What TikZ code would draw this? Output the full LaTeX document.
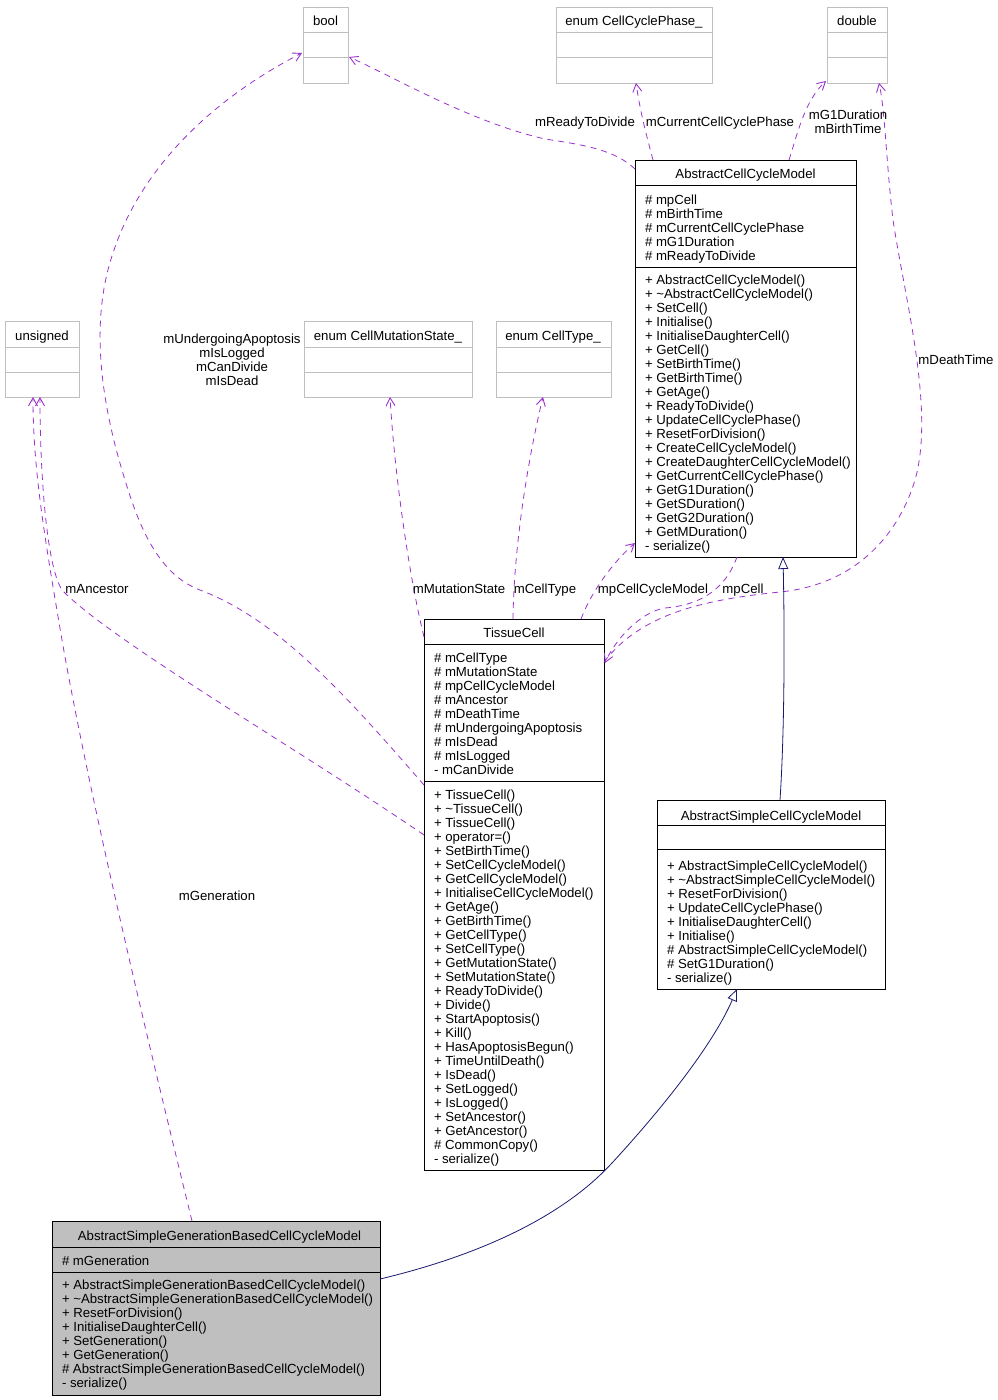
\documentclass[tikz,border=0pt]{standalone}
\usepackage{fontspec}
\setmainfont{Liberation Sans}
\usetikzlibrary{arrows.meta,calc}
\definecolor{purp}{HTML}{9A32CD}
\definecolor{navyc}{HTML}{191970}
\definecolor{extgray}{HTML}{BFBFBF}
\tikzset{
  every node/.style={font=\fontsize{13.2}{14}\selectfont, inner sep=0pt, outer sep=0pt},
  cls/.style={draw=black, line width=0.9pt, fill=white, anchor=north west},
  gcls/.style={draw=black, line width=0.9pt, fill=extgray, anchor=north west},
  ext/.style={draw=extgray, line width=0.9pt, fill=white, anchor=north west},
  sepb/.style={draw=black, line width=0.9pt},
  sepg/.style={draw=extgray, line width=0.9pt},
  mem/.style={anchor=base west},
  ttl/.style={anchor=base},
  lbl/.style={anchor=base},
  mlbl/.style={anchor=north, align=center},
  use/.style={draw=purp, line width=0.8pt, dash pattern=on 6pt off 5pt, -{Straight Barb[length=8pt,width=9pt,line width=0.9pt]}},
  inh/.style={draw=navyc, line width=0.8pt, -{Triangle[open,length=12pt,width=10pt,fill=white,line width=0.8pt]}},
}
\begin{document}
\begin{tikzpicture}[x=1pt,y=-1pt]
\useasboundingbox (0,0) rectangle (997,1400);

% ---------- external type boxes ----------
\node[ext, minimum width=45pt, minimum height=76pt] (bool) at (303,7) {};
\draw[sepg] (303,32) -- (348,32) (303,57) -- (348,57);
\node[ttl] (boolT) at (325.5,25.5) {bool};

\node[ext, minimum width=156pt, minimum height=76pt] (ccp) at (556,7) {};
\draw[sepg] (556,32) -- (712,32) (556,57) -- (712,57);
\node[ttl] (ccpT) at (634,25.5) {enum CellCyclePhase\_};

\node[ext, minimum width=60pt, minimum height=76pt] (dbl) at (827,7) {};
\draw[sepg] (827,32) -- (887,32) (827,57) -- (887,57);
\node[ttl] (dblT) at (857,25.5) {double};

\node[ext, minimum width=74pt, minimum height=76pt] (uns) at (5,321) {};
\draw[sepg] (5,347) -- (79,347) (5,372) -- (79,372);
\node[ttl] (unsT) at (42,340.5) {unsigned};

\node[ext, minimum width=168pt, minimum height=76pt] (cms) at (304,321) {};
\draw[sepg] (304,347) -- (472,347) (304,372) -- (472,372);
\node[ttl] (cmsT) at (388,340.5) {enum CellMutationState\_};

\node[ext, minimum width=115pt, minimum height=76pt] (ct) at (496,321) {};
\draw[sepg] (496,347) -- (611,347) (496,372) -- (611,372);
\node[ttl] (ctT) at (553,340.5) {enum CellType\_};

% ---------- AbstractCellCycleModel ----------
\node[cls, minimum width=221pt, minimum height=397pt] (acm) at (635,160) {};
\draw[sepb] (635,185) -- (856,185) (635,267) -- (856,267);
\node[ttl] (acmT) at (745.5,178.5) {AbstractCellCycleModel};
\foreach \mtxt [count=\i] in {{\# mpCell},{\# mBirthTime},{\# mCurrentCellCyclePhase},{\# mG1Duration},{\# mReadyToDivide}}
  \node[mem] (acmA\i) at (645,{204.5+14*(\i-1)}) {\mtxt};
\foreach \mtxt [count=\i] in {{+ AbstractCellCycleModel()},{+ \textasciitilde AbstractCellCycleModel()},{+ SetCell()},{+ Initialise()},{+ InitialiseDaughterCell()},{+ GetCell()},{+ SetBirthTime()},{+ GetBirthTime()},{+ GetAge()},{+ ReadyToDivide()},{+ UpdateCellCyclePhase()},{+ ResetForDivision()},{+ CreateCellCycleModel()},{+ CreateDaughterCellCycleModel()},{+ GetCurrentCellCyclePhase()},{+ GetG1Duration()},{+ GetSDuration()},{+ GetG2Duration()},{+ GetMDuration()},{- serialize()}}
  \node[mem] (acmM\i) at (645,{284.5+14*(\i-1)}) {\mtxt};

% ---------- TissueCell ----------
\node[cls, minimum width=180pt, minimum height=551pt] (tc) at (424,619) {};
\draw[sepb] (424,644) -- (604,644) (424,781) -- (604,781);
\node[ttl] (tcT) at (514,637.5) {TissueCell};
\foreach \mtxt [count=\i] in {{\# mCellType},{\# mMutationState},{\# mpCellCycleModel},{\# mAncestor},{\# mDeathTime},{\# mUndergoingApoptosis},{\# mIsDead},{\# mIsLogged},{- mCanDivide}}
  \node[mem] (tcA\i) at (434,{662.5+14*(\i-1)}) {\mtxt};
\foreach \mtxt [count=\i] in {{+ TissueCell()},{+ \textasciitilde TissueCell()},{+ TissueCell()},{+ operator=()},{+ SetBirthTime()},{+ SetCellCycleModel()},{+ GetCellCycleModel()},{+ InitialiseCellCycleModel()},{+ GetAge()},{+ GetBirthTime()},{+ GetCellType()},{+ SetCellType()},{+ GetMutationState()},{+ SetMutationState()},{+ ReadyToDivide()},{+ Divide()},{+ StartApoptosis()},{+ Kill()},{+ HasApoptosisBegun()},{+ TimeUntilDeath()},{+ IsDead()},{+ SetLogged()},{+ IsLogged()},{+ SetAncestor()},{+ GetAncestor()},{\# CommonCopy()},{- serialize()}}
  \node[mem] (tcM\i) at (434,{799.5+14*(\i-1)}) {\mtxt};

% ---------- AbstractSimpleCellCycleModel ----------
\node[cls, minimum width=228pt, minimum height=189pt] (asc) at (657,800) {};
\draw[sepb] (657,825) -- (885,825) (657,849) -- (885,849);
\node[ttl] (ascT) at (771,820.5) {AbstractSimpleCellCycleModel};
\foreach \mtxt [count=\i] in {{+ AbstractSimpleCellCycleModel()},{+ \textasciitilde AbstractSimpleCellCycleModel()},{+ ResetForDivision()},{+ UpdateCellCyclePhase()},{+ InitialiseDaughterCell()},{+ Initialise()},{\# AbstractSimpleCellCycleModel()},{\# SetG1Duration()},{- serialize()}}
  \node[mem] (ascM\i) at (667,{870.5+14*(\i-1)}) {\mtxt};

% ---------- AbstractSimpleGenerationBasedCellCycleModel ----------
\node[gcls, minimum width=328pt, minimum height=174pt] (asgb) at (52,1221) {};
\draw[sepb] (52,1247) -- (380,1247) (52,1272) -- (380,1272);
\node[ttl] (asgbT) at (219.5,1240.5) {AbstractSimpleGenerationBasedCellCycleModel};
\node[mem] (asgbA1) at (62,1265.5) {\# mGeneration};
\foreach \mtxt [count=\i] in {{+ AbstractSimpleGenerationBasedCellCycleModel()},{+ \textasciitilde AbstractSimpleGenerationBasedCellCycleModel()},{+ ResetForDivision()},{+ InitialiseDaughterCell()},{+ SetGeneration()},{+ GetGeneration()},{\# AbstractSimpleGenerationBasedCellCycleModel()},{- serialize()}}
  \node[mem] (asgbM\i) at (62,{1289.5+14*(\i-1)}) {\mtxt};

% ---------- usage (member) connectors ----------
\draw[use] ([shift={(0,9)}]acm.north west) .. controls (615,150) and (585,145) .. (545,139)
   .. controls (470,122) and (390,75) .. ([shift={(1,12)}]bool.east);
\draw[use] ([shift={(18,0)}]acm.north west) .. controls (645,130) and (640,110) .. ([shift={(80,0)}]ccp.south west);
\draw[use] ([shift={(154,0)}]acm.north west) .. controls (797,135) and (805,100) .. ([shift={(-1,-2)}]dbl.south west);
\draw[use] ([shift={(0,43)}]tc.north east) .. controls (640,615) and (700,600) .. (780,592)
   .. controls (860,584) and (900,530) .. (915,480)
   .. controls (935,410) and (905,300) .. (893,220)
   .. controls (886,160) and (885,110) .. ([shift={(52,0)}]dbl.south west);
\draw[use] ([shift={(-23,0)}]tc.north east) .. controls (590,595) and (610,565) .. ([shift={(0,-14)}]acm.south west);
\draw[use] ([shift={(102,0)}]acm.south west) .. controls (725,590) and (700,605) .. (665,608)
   .. controls (640,612) and (615,640) .. ([shift={(1,44)}]tc.north east);
\draw[use] ([shift={(0,18)}]tc.north west) .. controls (410,580) and (395,480) .. ([shift={(86,0)}]cms.south west);
\draw[use] ([shift={(89,0)}]tc.north west) .. controls (514,540) and (530,450) .. ([shift={(47,0)}]ct.south west);
\draw[use] ([shift={(0,166)}]tc.north west) .. controls (350,700) and (280,620) .. (200,590)
   .. controls (160,575) and (140,530) .. (125,480)
   .. controls (100,400) and (90,320) .. (113,253)
   .. controls (140,170) and (210,100) .. ([shift={(-1,-30)}]bool.south west);
\draw[use] ([shift={(0,216)}]tc.north west) .. controls (300,750) and (110,640) .. (62,590)
   .. controls (46,565) and (40,470) .. ([shift={(35,0)}]uns.south west);
\draw[use] ([shift={(140,0)}]asgb.north west) .. controls (150,1050) and (90,800) .. (62,640)
   .. controls (45,540) and (33,470) .. ([shift={(28,0)}]uns.south west);

% ---------- inheritance connectors ----------
\draw[inh] ([shift={(123,0)}]asc.north west) .. controls (784,740) and (785,650) .. ([shift={(148,0)}]acm.south west);
\draw[inh] ([shift={(0,58)}]asgb.north east) .. controls (460,1260) and (555,1225) .. (612,1163)
   .. controls (670,1100) and (715,1040) .. ([shift={(80,0)}]asc.south west);

% ---------- connector labels ----------
\node[lbl] (lRTD) at (585,126.5) {mReadyToDivide};
\node[lbl] (lCCP) at (720,126.5) {mCurrentCellCyclePhase};
\node[mlbl] (lG1) at (848,110) {mG1Duration\\mBirthTime};
\node[lbl] (lDT) at (956,364.5) {mDeathTime};
\node[mlbl] (lUA) at (232,334) {mUndergoingApoptosis\\mIsLogged\\mCanDivide\\mIsDead};
\node[lbl] (lMS) at (459,593.5) {mMutationState};
\node[lbl] (lCT) at (545,593.5) {mCellType};
\node[lbl] (lPCM) at (653,593.5) {mpCellCycleModel};
\node[lbl] (lPC) at (743,593.5) {mpCell};
\node[lbl] (lAN) at (97,593.5) {mAncestor};
\node[lbl] (lGE) at (217,900.5) {mGeneration};
\end{tikzpicture}
\end{document}
